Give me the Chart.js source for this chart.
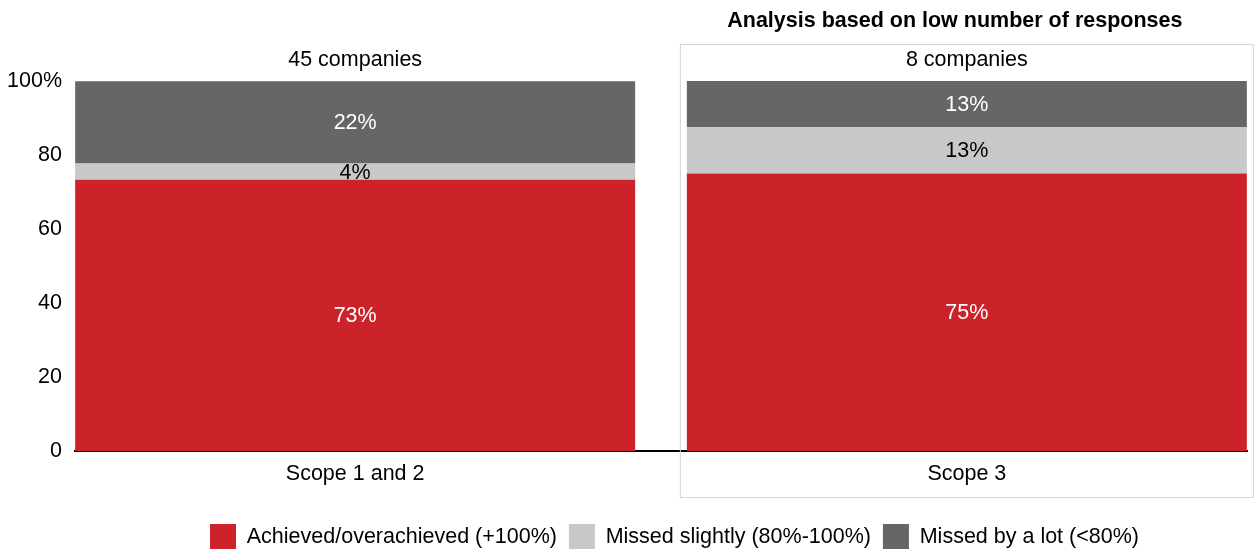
<!DOCTYPE html>
<html>
<head>
<meta charset="utf-8">
<script src="https://cdn.jsdelivr.net/npm/chart.js@4.4.1/dist/chart.umd.min.js"></script>
<style>
  html, body { margin: 0; padding: 0; background: #fff; overflow: hidden; }
  #wrap { width: 1255px; height: 549px; overflow: hidden; }
</style>
</head>
<body>
<div id="wrap"><canvas id="targetChart" width="1255" height="560"></canvas></div>
<script>
// Chart data
const categories = ['Scope 1 and 2', 'Scope 3'];
const companyCounts = ['45 companies', '8 companies'];
const achieved = [73.3, 75];
const missedSlightly = [4.4, 12.5];
const missedALot = [22.2, 12.5];
const yTicks = [0, 20, 40, 60, 80, 100];
const seriesNames = ['Achieved/overachieved (+100%)', 'Missed slightly (80%-100%)', 'Missed by a lot (<80%)'];

const colors = ['#cc2229', '#c8c8c8', '#666666'];
const labelColors = ['#ffffff', '#000000', '#ffffff'];
const FONT = '"Liberation Sans", Arial, sans-serif';
const FS = 21.5;

Chart.defaults.font.family = FONT;
Chart.defaults.font.size = FS;
Chart.defaults.color = '#000000';

function toPoints(values) {
    return values.map((v, i) => ({ x: i, y: v }));
}

// Percent labels inside segments plus the headers and the framed area
const annotations = {
    id: 'annotations',
    afterLayout(chart) {
        // legend sits a bit right of the canvas centre in the original
        chart.legend.left += 51;
        chart.legend.right += 51;
    },
    beforeDatasetsDraw(chart) {
        const ctx = chart.ctx;
        const area = chart.chartArea;
        const bar2 = chart.getDatasetMeta(0).data[1];
        const left = bar2.x - bar2.width / 2 - 7;
        const right = bar2.x + bar2.width / 2 + 6;
        ctx.save();
        ctx.strokeStyle = '#d4d4d4';
        ctx.lineWidth = 1;
        ctx.strokeRect(left + 0.5, area.top - 37 + 0.5, right - left, area.bottom + 46 - (area.top - 37));
        ctx.restore();
    },
    afterDatasetsDraw(chart) {
        const ctx = chart.ctx;
        const area = chart.chartArea;
        ctx.save();
        ctx.textAlign = 'center';
        ctx.textBaseline = 'middle';
        ctx.font = FS + 'px ' + FONT;
        chart.data.datasets.forEach((ds, di) => {
            chart.getDatasetMeta(di).data.forEach((bar, i) => {
                const mid = (bar.y + bar.base) / 2;
                ctx.fillStyle = labelColors[di];
                ctx.fillText(Math.round(ds.data[i].y) + '%', bar.x, mid + 1);
            });
        });
        ctx.fillStyle = '#000000';
        chart.getDatasetMeta(0).data.forEach((bar, i) => {
            ctx.fillText(companyCounts[i], bar.x, area.top - 21);
        });
        const bar2 = chart.getDatasetMeta(0).data[1];
        ctx.font = 'bold ' + FS + 'px ' + FONT;
        ctx.fillText('Analysis based on low number of responses', bar2.x - 12, area.top - 60);
        ctx.restore();
    }
};

const ctx = document.getElementById('targetChart').getContext('2d');

new Chart(ctx, {
    type: 'bar',
    data: {
        datasets: [
            { label: seriesNames[0], data: toPoints(achieved), backgroundColor: colors[0] },
            { label: seriesNames[1], data: toPoints(missedSlightly), backgroundColor: colors[1] },
            { label: seriesNames[2], data: toPoints(missedALot), backgroundColor: colors[2] }
        ]
    },
    options: {
        responsive: false,
        animation: false,
        categoryPercentage: 1,
        barPercentage: 0.9155,
        borderWidth: 0,
        layout: { padding: { top: 81, right: 8, left: 0, bottom: 0 } },
        scales: {
            x: {
                type: 'linear',
                stacked: true,
                offset: false,
                min: -0.458,
                max: 1.458,
                afterBuildTicks(scale) {
                    scale.ticks = categories.map((c, i) => ({ value: i }));
                },
                afterFit(scale) { scale.height = 61; },
                ticks: {
                    padding: 10,
                    maxRotation: 0,
                    callback: (value, index) => categories[index]
                },
                grid: { display: false, drawTicks: false },
                border: { display: true, color: '#000000', width: 2 }
            },
            y: {
                stacked: true,
                min: 0,
                max: 100,
                afterBuildTicks(scale) {
                    scale.ticks = yTicks.map(v => ({ value: v }));
                },
                afterFit(scale) { scale.width = 75; },
                ticks: {
                    padding: 13,
                    callback: v => v === 100 ? '100%' : String(v)
                },
                grid: { display: false, drawTicks: false },
                border: { display: false }
            }
        },
        plugins: {
            legend: {
                position: 'bottom',
                labels: {
                    boxWidth: 26,
                    boxHeight: 26,
                    padding: 12,
                    font: { size: FS }
                }
            },
            tooltip: { enabled: false }
        }
    },
    plugins: [annotations]
});
</script>
</body>
</html>
